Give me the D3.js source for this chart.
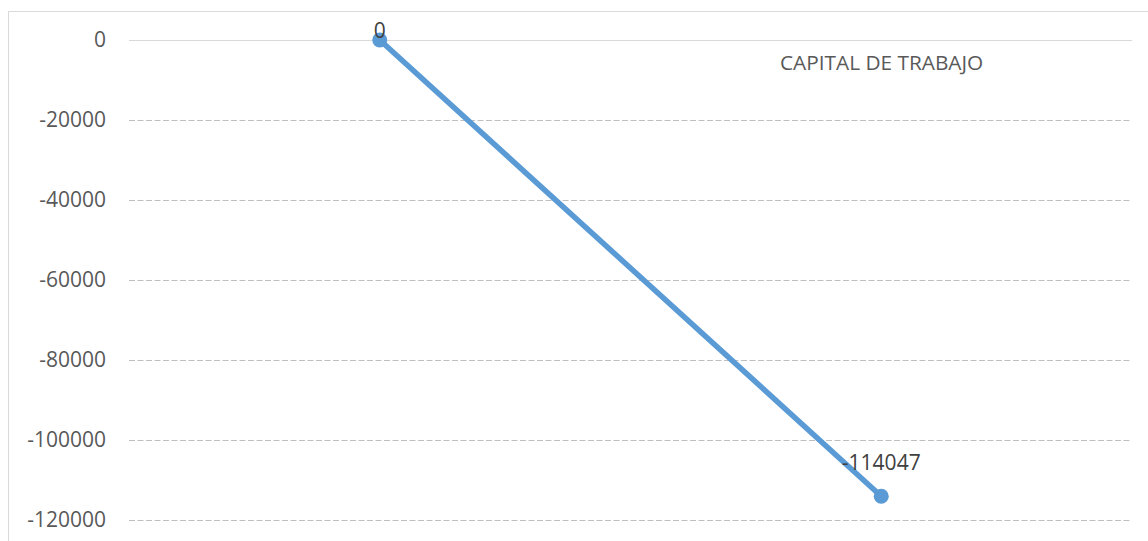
<!DOCTYPE html>
<html>
<head>
<meta charset="utf-8">
<script src="https://cdn.jsdelivr.net/npm/d3@7"></script>
<style>
  body { margin: 0; background: #fff; }
  svg { display: block; font-family: "Open Sans", "Liberation Sans", sans-serif; }
</style>
</head>
<body>
<svg id="chart" width="1148" height="541"></svg>
<script>
// data
const periods = ["0", "1"];
const capitalTrabajo = [0, -114047];
const yTicks = [0, -20000, -40000, -60000, -80000, -100000, -120000];
const chartTitle = "CAPITAL DE TRABAJO";

const svg = d3.select("#chart"),
  margin = { top: 40, right: 16, bottom: 21, left: 129 },
  width = +svg.attr("width"),
  height = +svg.attr("height");

// chart border (runs off the picture at right and bottom)
svg.append("rect")
  .attr("x", 8.5).attr("y", 11.5)
  .attr("width", width).attr("height", height)
  .attr("fill", "none")
  .attr("stroke", "#d9d9d9");

const x = d3.scalePoint()
  .domain(periods)
  .range([margin.left, width - margin.right])
  .padding(0.5);

const y = d3.scaleLinear()
  .domain([0, -120000])
  .range([margin.top, height - margin.bottom]);

// gridlines + tick labels
const yAxis = svg.append("g")
  .attr("transform", "translate(" + margin.left + ",0)")
  .call(d3.axisLeft(y).tickValues(yTicks).tickSize(-(width - margin.right - margin.left)).tickPadding(23).tickFormat(d3.format("d")))
  .attr("font-family", null)
  .attr("font-size", null);

yAxis.select(".domain").remove();
yAxis.selectAll(".tick line")
  .attr("stroke", (d) => (d === 0 ? "#d9d9d9" : "#bfbfbf"))
  .attr("stroke-width", 1.2)
  .attr("stroke-dasharray", (d) => (d === 0 ? null : "6,2.5"));
yAxis.selectAll(".tick text")
  .attr("fill", "#595959")
  .style("font-size", "21px")
  .text((d) => String(d).replace("−", "-"));

// series line
const pts = periods.map((p, i) => ({ p: p, v: capitalTrabajo[i] }));

svg.append("path")
  .datum(pts)
  .attr("fill", "none")
  .attr("stroke", "#5b9bd5")
  .attr("stroke-width", 5.5)
  .attr("stroke-linecap", "round")
  .attr("d", d3.line().x((d) => x(d.p)).y((d) => y(d.v)));

svg.selectAll(".dot")
  .data(pts)
  .enter()
  .append("circle")
  .attr("class", "dot")
  .attr("cx", (d) => x(d.p))
  .attr("cy", (d) => y(d.v))
  .attr("r", 7.5)
  .attr("fill", "#5b9bd5");

// data labels (clamped inside the plot area)
svg.selectAll(".lbl")
  .data(pts)
  .enter()
  .append("text")
  .attr("class", "lbl")
  .attr("x", (d) => x(d.p))
  .attr("y", (d) => Math.max(y(d.v) - 26, 38))
  .attr("text-anchor", "middle")
  .attr("fill", "#404040")
  .style("font-size", "21px")
  .text((d) => d.v);

// title
svg.append("text")
  .attr("x", 780)
  .attr("y", 70)
  .attr("fill", "#595959")
  .style("font-size", "20.8px")
  .text(chartTitle);
</script>
</body>
</html>
